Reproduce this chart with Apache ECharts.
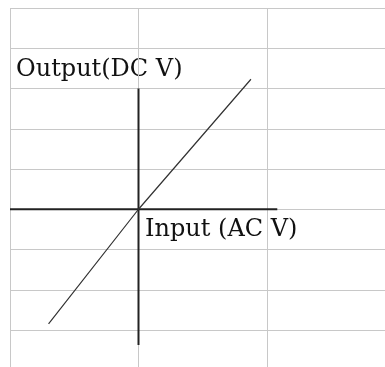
<!DOCTYPE html>
<html>
<head>
<meta charset="utf-8">
<script src="https://cdn.jsdelivr.net/npm/echarts@6/dist/echarts.min.js"></script>
<style>
  html, body { margin: 0; padding: 0; background: #fff; }
  #chart { width: 385px; height: 367px; }
</style>
</head>
<body>
<div id="chart"></div>
<script>
// cell grid: one column = 1 unit on x, one row = 1 unit on y
// (the sheet runs past the right and bottom edges of the picture)
const xRange = [-1, 2]
const yRange = [-4, 5]

// hand drawn axes (data units)
const inputAxis = [[-1, 0], [1.08, 0]]
const outputAxis = [[0, 3], [0, -3.37]]

// transfer line
const response = [[-0.70, -2.85], [0, 0], [0.875, 3.23]]

const yLabel = 'Output(DC V)'
const xLabel = 'Input (AC V)'

const chart = echarts.init(document.getElementById('chart'))
const gridLine = { show: true, lineStyle: { color: '#c8c8c8', width: 1 } }

chart.setOption({
  animation: false,
  grid: {
    left: 10,
    top: 8,
    width: 385.5,
    height: 362.25,
    outerBoundsMode: 'none'
  },
  xAxis: {
    type: 'value',
    min: xRange[0],
    max: xRange[1],
    interval: 1,
    axisLine: { show: false },
    axisTick: { show: false },
    axisLabel: { show: false },
    splitLine: gridLine
  },
  yAxis: {
    type: 'value',
    min: yRange[0],
    max: yRange[1],
    interval: 1,
    axisLine: { show: false },
    axisTick: { show: false },
    axisLabel: { show: false },
    splitLine: gridLine
  },
  graphic: [
    {
      type: 'text',
      left: 16,
      top: 58,
      style: { text: yLabel, font: '24px "DejaVu Serif"', fill: '#111' }
    },
    {
      type: 'text',
      left: 145,
      top: 218,
      style: { text: xLabel, font: '24px "DejaVu Serif"', fill: '#111' }
    }
  ],
  series: [
    {
      type: 'line',
      data: inputAxis,
      symbol: 'none',
      lineStyle: { color: '#222', width: 2 }
    },
    {
      type: 'line',
      data: outputAxis,
      symbol: 'none',
      lineStyle: { color: '#222', width: 2 }
    },
    {
      type: 'line',
      data: response,
      symbol: 'none',
      lineStyle: { color: '#333', width: 1.2 }
    }
  ]
})
</script>
</body>
</html>
